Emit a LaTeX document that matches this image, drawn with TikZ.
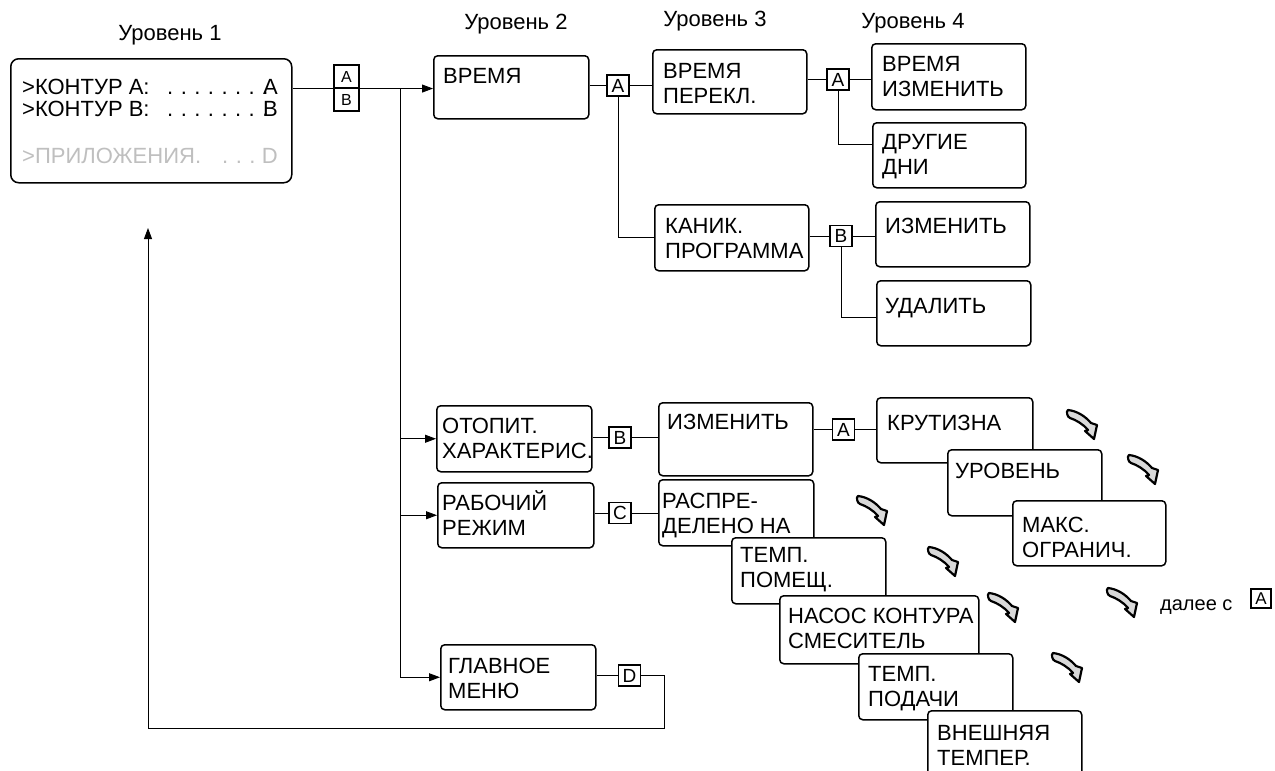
\documentclass[tikz,border=0pt]{standalone}
\usepackage{fontspec}
\setmainfont{Liberation Sans}
\usetikzlibrary{arrows.meta,calc}
\tikzset{
  mbox/.style={draw, line width=1.5pt, rounded corners=4pt, fill=white, inner sep=0pt},
  btext/.style={font=\fontsize{22}{25.5}\selectfont, inner sep=0pt},
  l1t/.style={font=\fontsize{22}{22}\selectfont, inner sep=0pt},
  key/.style={draw, line width=1.1pt, fill=white, minimum width=22pt, minimum height=21pt, inner sep=0pt, font=\fontsize{19}{19}\selectfont},
  smallkey/.style={key, minimum width=25pt, minimum height=23pt, font=\fontsize{16}{16}\selectfont},
  conn/.style={line width=0.9pt},
  arr/.style={conn, -{Triangle[length=11pt,width=8pt]}},
  hdr/.style={font=\fontsize{22}{25}\selectfont, inner sep=0pt, anchor=base},
  curvarr/.pic={
    \draw[line width=2.2pt, fill=gray!30, line join=round]
      (1,0) .. controls (10,1) and (18,6) .. (24,13) -- (30,15) -- (27,29) -- (18,21) -- (21,20)
      .. controls (16,14) and (9,10) .. (3,8) .. controls (0,7) and (-1,1) .. (1,0) -- cycle;
  }
}
\newcommand\oneln[1]{\hbox{#1}}
\newcommand\twoln[2]{\hbox{#1}\hbox{#2}}
\newcommand\bx[8]{%
  \node[mbox, minimum width={(#4-#2)*1pt}, minimum height={(#5-#3)*1pt}, anchor=north west] (#1) at (#2,#3) {};
  \node[btext, anchor=base west] (#1-t) at (#2+#6,#3+#7) {\vtop{#8}};
}
\begin{document}
\begin{tikzpicture}[x=1pt,y=-1pt]
\useasboundingbox (0,0) rectangle (1275,771);

% headers
\node[hdr] (h1) at (170,40) {Уровень 1};
\node[hdr] (h2) at (516,30) {Уровень 2};
\node[hdr] (h3) at (715,27) {Уровень 3};
\node[hdr] (h4) at (913,28) {Уровень 4};

% level 1 box
\node[mbox, rounded corners=8pt, minimum width=281pt, minimum height=124pt, anchor=north west] (l1) at (10,58) {};
\node[l1t, anchor=base west] (l1a) at (22,94) {\textgreater КОНТУР A:};
\node[l1t, anchor=base west] (l1ad) at (167,94) {\makebox[80pt][s]{. . . . . . . .}};
\node[l1t, anchor=base east] (l1ar) at (278,94) {A};
\node[l1t, anchor=base west] (l1b) at (22,116) {\textgreater КОНТУР B:};
\node[l1t, anchor=base west] (l1bd) at (167,116) {\makebox[80pt][s]{. . . . . . . .}};
\node[l1t, anchor=base east] (l1br) at (278,116) {B};
\node[l1t, text=gray!50, anchor=base west] (l1c) at (22,163) {\textgreater ПРИЛОЖЕНИЯ.};
\node[l1t, text=gray!50, anchor=base west] (l1cd) at (222,163) {\makebox[26pt][s]{. . .}};
\node[l1t, text=gray!50, anchor=base east] (l1cr) at (278,163) {D};

% upper branch
\bx{vrem}{433}{55}{588}{118}{10}{28}{\oneln{ВРЕМЯ}}
\bx{vremper}{652}{49}{806}{113}{11}{29}{\twoln{ВРЕМЯ}{ПЕРЕКЛ.}}
\bx{kanik}{654}{204}{808}{270}{11}{29}{\twoln{КАНИК.}{ПРОГРАММА}}
\bx{vi}{871}{43}{1025}{109}{11}{28}{\twoln{ВРЕМЯ}{ИЗМЕНИТЬ}}
\bx{dd}{872}{122}{1025}{187}{10}{27}{\twoln{ДРУГИЕ}{ДНИ}}
\bx{izmA}{875}{201}{1029}{266}{10}{32}{\oneln{ИЗМЕНИТЬ}}
\bx{udal}{876}{280}{1030}{345}{9}{33}{\oneln{УДАЛИТЬ}}

% lower branch
\bx{otop}{436}{405}{591}{471}{6}{28}{\twoln{ОТОПИТ.}{ХАРАКТЕРИС.}}
\bx{izmB}{658}{402}{812}{475}{9}{27}{\oneln{ИЗМЕНИТЬ}}
\bx{krut}{876}{397}{1032}{462}{11}{33}{\oneln{КРУТИЗНА}}
\bx{urov}{947}{449}{1101}{515}{8}{29}{\oneln{УРОВЕНЬ}}
\bx{maks}{1012}{500}{1165}{565}{10}{32}{\twoln{МАКС.}{ОГРАНИЧ.}}
\bx{rab}{437}{482}{593}{547}{5}{28}{\twoln{РАБОЧИЙ}{РЕЖИМ}}
\bx{rasp}{658}{479}{813}{545}{4}{29}{\twoln{РАСПРЕ-}{ДЕЛЕНО НА}}
\bx{tp}{731}{537}{885}{603}{9}{25}{\twoln{ТЕМП.}{ПОМЕЩ.}}
\bx{nasos}{779}{595}{978}{663}{9}{28}{\twoln{НАСОС КОНТУРА}{СМЕСИТЕЛЬ}}
\bx{tpod}{858}{653}{1012}{719}{10}{28}{\twoln{ТЕМП.}{ПОДАЧИ}}
\bx{vn}{927}{710}{1081}{782}{10}{30}{\twoln{ВНЕШНЯЯ}{ТЕМПЕР.}}
\bx{glav}{440}{644}{595}{709}{8}{29}{\twoln{ГЛАВНОЕ}{МЕНЮ}}

% keys
\node[smallkey] (kA0) at (346.5,76.5) {A};
\node[smallkey] (kB0) at (346.5,99.5) {B};
\node[key] (kA1) at (618,85.5) {A};
\node[key] (kA2) at (838,79.5) {A};
\node[key] (kB1) at (841,236) {B};
\node[key] (kB2) at (620,437.5) {B};
\node[key] (kA3) at (843.5,429.5) {A};
\node[key] (kC) at (620,513) {C};
\node[key] (kD) at (629.5,675.5) {D};
\node[key, minimum width=20pt, minimum height=19pt, font=\fontsize{17}{17}\selectfont] (kA4) at (1261,598.5) {A};

% connectors
\coordinate (jt) at (400,88);
\draw[arr] (l1.east |- kA0.south) -- (vrem.west |- kA0.south);
\coordinate (jb) at (jt |- glav.west);
\draw[conn] (jt) -- (jb);
\draw[arr] (jt |- otop.west) -- (otop.west);
\draw[arr] (jt |- rab.west) -- (rab.west);
\draw[arr] (jb) -- (glav.west);

\draw[conn] (vrem.east |- kA1.west) -- (kA1.west);
\draw[conn] (kA1.east) -- (kA1.east -| vremper.west);
\draw[conn] (kA1.south) |- (kanik.west);
\draw[conn] (vremper.east |- kA2.west) -- (kA2.west);
\draw[conn] (kA2.east) -- (kA2.east -| vi.west);
\coordinate (ddj) at ($(dd.north west)+(0,22)$);
\draw[conn] (kA2.south) |- (ddj);
\draw[conn] (kanik.east |- kB1.west) -- (kB1.west);
\draw[conn] (kB1.east) -- (kB1.east -| izmA.west);
\coordinate (udj) at ($(udal.north west)+(0,37)$);
\draw[conn] (kB1.south) |- (udj);

\draw[conn] (otop.east |- kB2.west) -- (kB2.west);
\draw[conn] (kB2.east) -- (kB2.east -| izmB.west);
\draw[conn] (izmB.east |- kA3.west) -- (kA3.west);
\draw[conn] (kA3.east) -- (kA3.east -| krut.west);
\draw[conn] (rab.east |- kC.west) -- (kC.west);
\draw[conn] (kC.east) -- (kC.east -| rasp.west);
\draw[conn] (glav.east |- kD.west) -- (kD.west);
\coordinate (r1) at (664,728);
\coordinate (r2) at (148,728);
\coordinate (r3) at (148,228);
\draw[arr] (kD.east) -| (r1) -- (r2) -- (r3);

% continuation arrows
\pic at (1067,410) {curvarr};
\pic at (1128,455) {curvarr};
\pic at (857,496) {curvarr};
\pic at (928,547) {curvarr};
\pic at (988,593) {curvarr};
\pic at (1107,588) {curvarr};
\pic at (1052,653) {curvarr};

\node[anchor=base west, font=\fontsize{20}{24}\selectfont, inner sep=0pt] (dalee) at (1160,610) {далее с};
\end{tikzpicture}
\end{document}
